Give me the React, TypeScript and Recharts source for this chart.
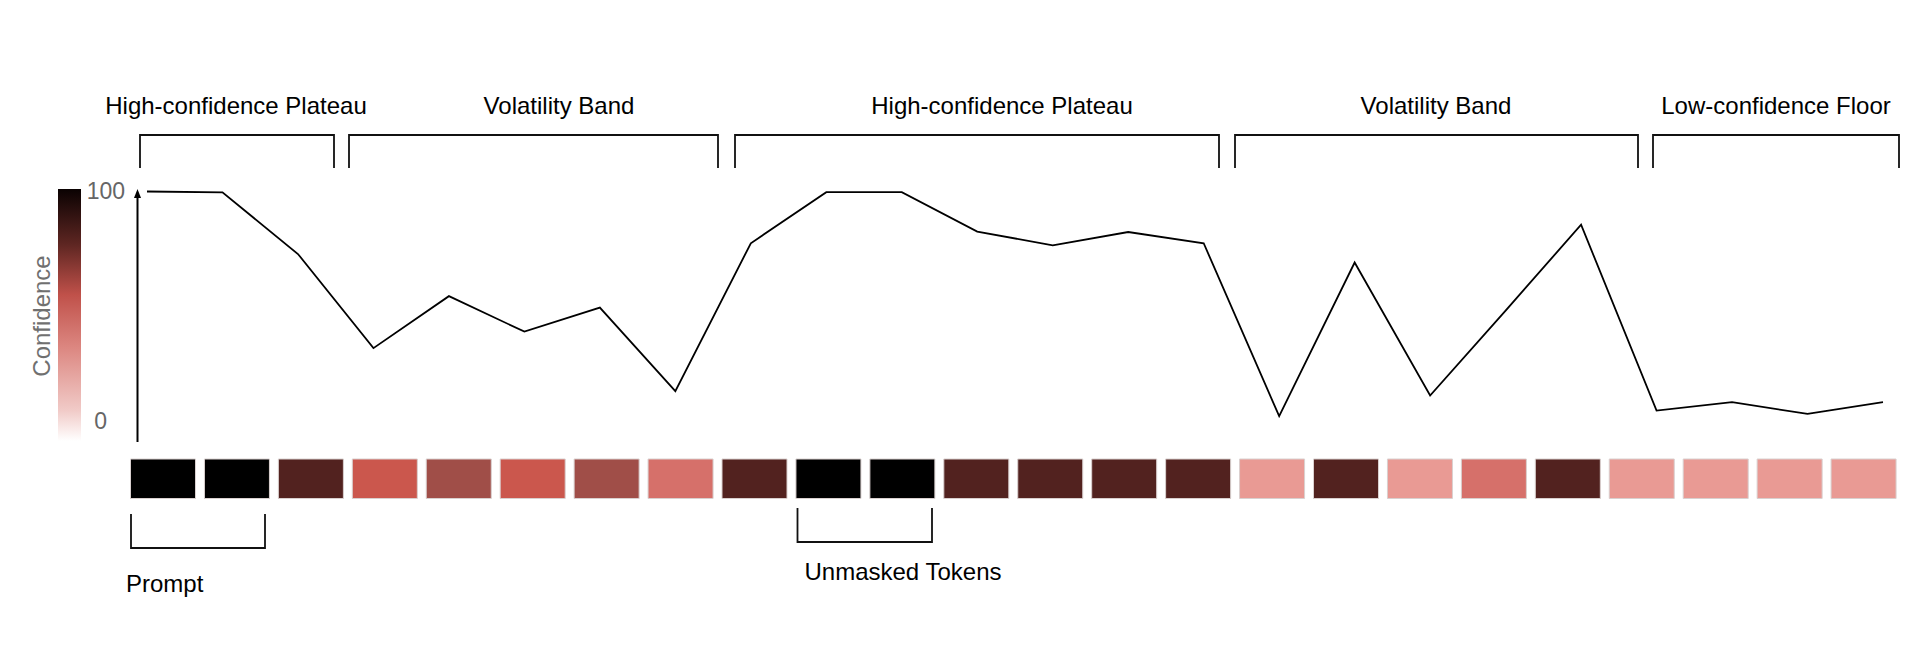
import { LineChart, Line, BarChart, Bar, Cell, XAxis, YAxis } from "recharts";

// token positions 1..24
const tokens = [
  "t1", "t2", "t3", "t4", "t5", "t6", "t7", "t8", "t9", "t10", "t11", "t12",
  "t13", "t14", "t15", "t16", "t17", "t18", "t19", "t20", "t21", "t22", "t23", "t24",
];

const confidence = [
  100, 99.6, 72.7, 31.6, 54.3, 38.8, 49.3, 12.8, 77.4, 99.7, 99.7, 82.5,
  76.5, 82.3, 77.4, 1.9, 69, 10.9, 48, 85.5, 4.3, 8, 2.9, 8,
];

// shade level of each token tile (0 = darkest)
const tileShade = [0, 0, 1, 3, 2, 3, 2, 4, 1, 0, 0, 1, 1, 1, 1, 5, 1, 5, 4, 1, 5, 5, 5, 5];

const yTicks = ["100", "0"];

const regions = [
  "High-confidence Plateau",
  "Volatility Band",
  "High-confidence Plateau",
  "Volatility Band",
  "Low-confidence Floor",
];

const PALETTE = ["#000000", "#52221f", "#a04e48", "#cb574d", "#d6706a", "#e99a94"];
const FONT = "'Liberation Sans', Arial, Helvetica, sans-serif";
const W = 1920;
const H = 662;

const lineData = tokens.map((token, i) => ({ token, confidence: confidence[i] }));
const tileData = tokens.map((token, i) => ({ token, tile: 1, shade: tileShade[i] }));

// annotation layout (page pixels)
const TOP_BRACKETS = [
  [140, 334],
  [349, 718],
  [735, 1219],
  [1235, 1638],
  [1653, 1899],
];
const REGION_LABEL_X = [236, 559, 1002, 1436, 1776];

function Annotations() {
  return (
    <svg
      width={W}
      height={H}
      style={{ position: "absolute", left: 0, top: 0, pointerEvents: "none" }}
    >
      <defs>
        <linearGradient id="confGrad" x1="0" y1="0" x2="0" y2="1">
          <stop offset="0%" stopColor="#0a0202" />
          <stop offset="22%" stopColor="#5e2622" />
          <stop offset="42%" stopColor="#c0514a" />
          <stop offset="63%" stopColor="#dc8781" />
          <stop offset="88%" stopColor="#f1cbc8" />
          <stop offset="100%" stopColor="#ffffff" />
        </linearGradient>
      </defs>

      {/* colour bar */}
      <rect x={58} y={189} width={23} height={252} fill="url(#confGrad)" />
      <text
        x={125}
        y={199}
        textAnchor="end"
        fontSize={23}
        fontFamily={FONT}
        fill="#666"
      >
        {yTicks[0]}
      </text>
      <text
        x={107}
        y={429}
        textAnchor="end"
        fontSize={23}
        fontFamily={FONT}
        fill="#666"
      >
        {yTicks[1]}
      </text>
      <text
        x={41}
        y={316}
        transform="rotate(-90 41 316)"
        textAnchor="middle"
        dominantBaseline="central"
        fontSize={24}
        fontFamily={FONT}
        fill="#707070"
      >
        Confidence
      </text>

      {/* y axis arrow */}
      <line x1={137.5} y1={442} x2={137.5} y2={195} stroke="#000" strokeWidth={2} />
      <polygon points="137.5,189 134,198 141,198" fill="#000" />

      {/* region brackets */}
      {TOP_BRACKETS.map(([a, b], i) => (
        <g key={i}>
          <polyline
            points={`${a},168 ${a},135 ${b},135 ${b},168`}
            fill="none"
            stroke="#111"
            strokeWidth={1.8}
          />
          <text
            x={REGION_LABEL_X[i]}
            y={114}
            textAnchor="middle"
            fontSize={24}
            fontFamily={FONT}
            fill="#000"
          >
            {regions[i]}
          </text>
        </g>
      ))}

      {/* bottom brackets */}
      <polyline
        points="131,514 131,548 265,548 265,514"
        fill="none"
        stroke="#111"
        strokeWidth={1.8}
      />
      <text x={126} y={592} fontSize={24} fontFamily={FONT} fill="#000">
        Prompt
      </text>
      <polyline
        points="797.5,508 797.5,542 932,542 932,508"
        fill="none"
        stroke="#111"
        strokeWidth={1.8}
      />
      <text
        x={903}
        y={580}
        textAnchor="middle"
        fontSize={24}
        fontFamily={FONT}
        fill="#000"
      >
        Unmasked Tokens
      </text>
    </svg>
  );
}

export default function App() {
  return (
    <div
      style={{
        position: "absolute",
        left: 0,
        top: 0,
        width: W,
        height: H,
        background: "#fff",
        overflow: "hidden",
      }}
    >
      <div style={{ position: "absolute", left: 0, top: 0 }}>
        <BarChart
          width={W}
          height={H}
          data={tileData}
          margin={{ top: 459, right: 19, bottom: 163.5, left: 126.5 }}
        >
          <XAxis dataKey="token" hide />
          <YAxis hide domain={[0, 1]} />
          <Bar
            dataKey="tile"
            barSize={65}
            stroke="#d9d0cf"
            strokeWidth={1}
            isAnimationActive={false}
          >
            {tileData.map((d) => (
              <Cell key={d.token} fill={PALETTE[d.shade]} />
            ))}
          </Bar>
        </BarChart>
      </div>
      <div style={{ position: "absolute", left: 0, top: 0 }}>
        <LineChart
          width={W}
          height={H}
          data={lineData}
          margin={{ top: 191.5, right: 37, bottom: 241.5, left: 147 }}
        >
          <XAxis
            dataKey="token"
            hide
            scale="point"
            padding={{ left: 0, right: 0 }}
          />
          <YAxis hide domain={[0, 100]} />
          <Line
            type="linear"
            dataKey="confidence"
            stroke="#000"
            strokeWidth={1.8}
            dot={false}
            activeDot={false}
            isAnimationActive={false}
          />
        </LineChart>
      </div>
      <Annotations />
    </div>
  );
}
